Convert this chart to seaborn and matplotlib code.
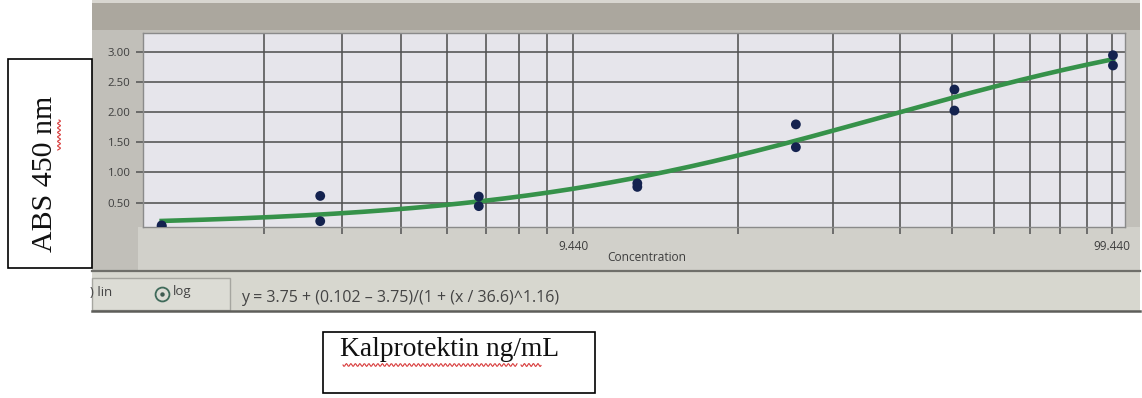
import numpy as np
import pandas as pd
import matplotlib
matplotlib.use("Agg")
import matplotlib.pyplot as plt
from matplotlib.patches import Rectangle
from matplotlib.ticker import FixedLocator, FixedFormatter, NullFormatter
import seaborn as sns

# Standard concentrations (ng/mL) and duplicate absorbance readings
concentration = [1.5625, 3.125, 6.25, 12.5, 25, 50, 100]
abs_rep1 = [0.12, 0.61, 0.60, 0.82, 1.80, 2.38, 2.95]
abs_rep2 = [0.10, 0.19, 0.44, 0.76, 1.42, 2.03, 2.78]

# Four-parameter logistic fit reported by the reader software
fit_top = 3.75
fit_bottom = 0.102
fit_c50 = 36.6
fit_hill = 1.16

# Axis tick values and labels
x_major = [9.44, 99.44]
x_major_labels = ["9.440", "99.440"]
x_minor = [2.44, 3.44, 4.44, 5.44, 6.44, 7.44, 8.44,
           19.44, 29.44, 39.44, 49.44, 59.44, 69.44, 79.44, 89.44]
y_ticks = [0.50, 1.00, 1.50, 2.00, 2.50, 3.00]

W, H = 1142, 398


def fx(px):
    return px / W


def fy(py):
    return 1 - py / H


fig = plt.figure(figsize=(W / 100, H / 100), dpi=100)
fig.patch.set_facecolor("white")


def rect(x0, y0, x1, y1, **kw):
    r = Rectangle((fx(x0), fy(y1)), fx(x1) - fx(x0), fy(y0) - fy(y1),
                  transform=fig.transFigure, **kw)
    fig.add_artist(r)
    return r


def hline(x0, x1, y, **kw):
    fig.add_artist(plt.Line2D([fx(x0), fx(x1)], [fy(y), fy(y)],
                              transform=fig.transFigure, **kw))


# Screen photo backdrop
rect(92, 0, 1140, 312, facecolor="#c1bfb9", edgecolor="none", zorder=0)
rect(92, 0, 1140, 30, facecolor="#aba79e", edgecolor="none", zorder=0)
rect(92, 0, 1140, 3, facecolor="#d8d6d0", edgecolor="none", zorder=0)
rect(138, 227, 1140, 270, facecolor="#d1d0ca", edgecolor="none", zorder=0)
rect(92, 271, 1140, 311, facecolor="#d7d7cf", edgecolor="none", zorder=0)
rect(92, 278, 230, 310, facecolor="#dcdcd5", edgecolor="#a6a6a0", lw=1, zorder=0)
hline(92, 1140, 271, color="#6f6f6a", lw=1.6)
hline(92, 1140, 311, color="#5e5e5a", lw=1.8)

ax = fig.add_axes([fx(143), fy(227), fx(1125) - fx(143), fy(33) - fy(227)])
ax.set_facecolor("#e6e5eb")
ax.set_xscale("log")
ax.set_xlim(1.44, 105.4)
ax.set_ylim(0.093, 3.32)

df = pd.DataFrame({
    "conc": concentration * 2,
    "absorbance": abs_rep1 + abs_rep2,
})

x_fit = np.geomspace(concentration[0], concentration[-1], 300)
y_fit = fit_top + (fit_bottom - fit_top) / (1 + (x_fit / fit_c50) ** fit_hill)

sns.lineplot(x=x_fit, y=y_fit, ax=ax, color="#36924a", lw=3.3, zorder=3)
sns.scatterplot(data=df, x="conc", y="absorbance", ax=ax, color="#14224f",
                s=50, edgecolor="none", zorder=4, legend=False)

grid_c = "#525252"
ax.xaxis.set_major_locator(FixedLocator(x_major))
ax.xaxis.set_major_formatter(FixedFormatter(x_major_labels))
ax.xaxis.set_minor_locator(FixedLocator(x_minor))
ax.xaxis.set_minor_formatter(NullFormatter())
ax.set_yticks(y_ticks)
ax.set_yticklabels([f"{v:.2f}" for v in y_ticks])
ax.set_axisbelow(True)
ax.grid(which="both", axis="x", color=grid_c, lw=1.15)
ax.grid(which="major", axis="y", color=grid_c, lw=1.15)
ax.tick_params(axis="both", which="both", direction="out", length=5,
               width=1.1, color=grid_c, labelcolor="#3e3e3e")
ax.tick_params(axis="x", which="major", labelsize=8.6, pad=4)
ax.tick_params(axis="y", which="major", labelsize=8.2, pad=4)
for s in ax.spines.values():
    s.set_color("#8a8a8a")
    s.set_linewidth(1)
ax.set_xlabel("Concentration", fontsize=8.6, color="#3e3e3e")
ax.xaxis.set_label_coords(0.513, -0.125)
ax.set_ylabel("")
for lbl in ax.get_xticklabels() + ax.get_yticklabels():
    lbl.set_family("Open Sans")
ax.xaxis.label.set_family("Open Sans")

# Bottom status bar: scale selector and fitted equation
fig.text(fx(90), fy(293), ") lin", fontsize=9.5, color="#444444",
         family="Open Sans", ha="left", va="center")
fig.add_artist(plt.Line2D([fx(162)], [fy(294)], transform=fig.transFigure,
                          marker="o", ms=10, mfc="none", mec="#3f6a5a", mew=1.3))
fig.add_artist(plt.Line2D([fx(162)], [fy(294)], transform=fig.transFigure,
                          marker="o", ms=3.2, mfc="#3f5a50", mec="none"))
fig.text(fx(173), fy(292), "log", fontsize=9.5, color="#444444",
         family="Open Sans", ha="left", va="center")
fig.text(fx(241), fy(298),
         f"y = {fit_top:.2f} + ({fit_bottom:.3f} \u2013 {fit_top:.2f})/(1 + (x / {fit_c50:.1f})^{fit_hill:.2f})",
         fontsize=11.5, color="#444444", family="Open Sans", ha="left", va="center")

# Axis caption boxes
rect(8, 59, 92, 268, facecolor="white", edgecolor="black", lw=1.2, zorder=5)
fig.text(fx(45), fy(174), "ABS 450 nm", rotation=90, fontsize=21.5,
         family="Liberation Serif", ha="center", va="center", color="#111111",
         zorder=6)
rect(323, 332, 595, 393, facecolor="white", edgecolor="black", lw=1.2, zorder=5)
fig.text(fx(340), fy(356), "Kalprotektin ng/mL", fontsize=19.8,
         family="Liberation Serif", ha="left", va="baseline", color="#111111",
         zorder=6)


def squiggle(x0, x1, y, vertical=False):
    t = np.linspace(0, 1, 200)
    length = x1 - x0
    a = np.linspace(x0, x1, 200)
    b = y + 1.4 * np.sin(2 * np.pi * t * length / 4.5)
    if vertical:
        xs, ys = b, a
    else:
        xs, ys = a, b
    fig.add_artist(plt.Line2D(fx(np.array(xs)), fy(np.array(ys)),
                              transform=fig.transFigure, color="#d83a3a",
                              lw=0.8, zorder=7))


squiggle(343, 517, 365)
squiggle(521, 541, 365)
squiggle(120, 150, 59, vertical=True)

fig.savefig("out.png", dpi=100)
